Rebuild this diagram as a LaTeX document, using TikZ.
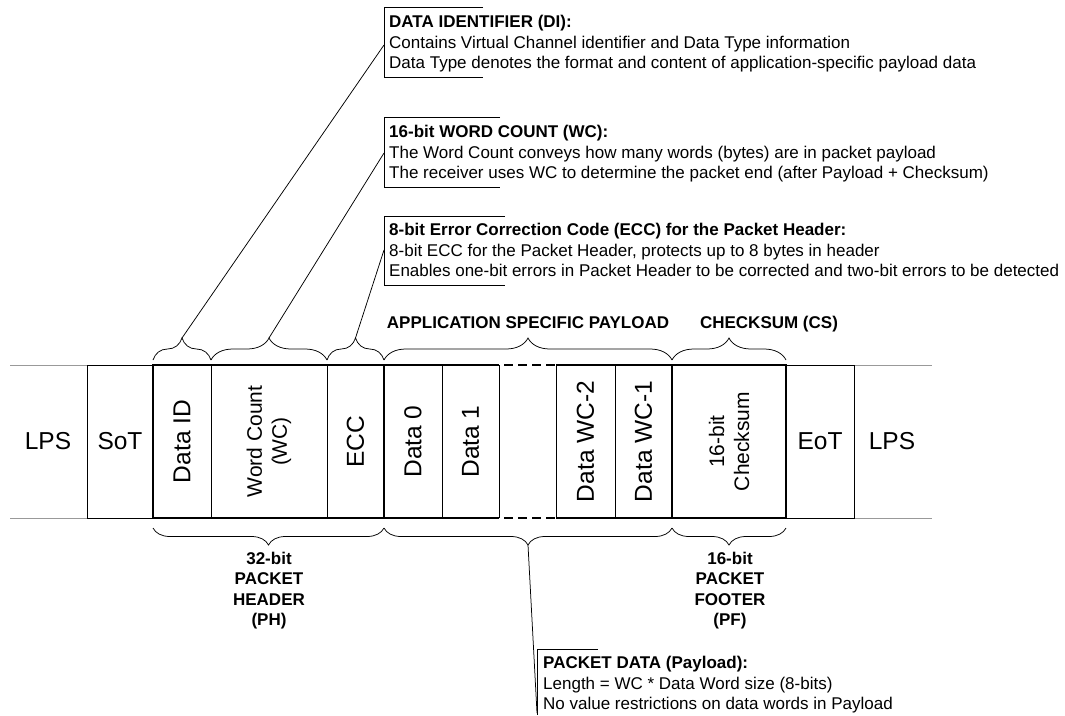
\documentclass[tikz,border=0pt]{standalone}
\usepackage{fontspec}
\setmainfont{Liberation Sans}
\usetikzlibrary{decorations.pathreplacing}

\tikzset{
  cellline/.style={line width=0.85pt},
  frameline/.style={line width=1.7pt},
  gapline/.style={line width=1.7pt, dash pattern=on 9pt off 5pt, dash phase=9pt},
  sideline/.style={line width=0.8pt, black!40},
  bigtext/.style={inner sep=0pt, font=\fontsize{24.5}{28}\selectfont},
  midtext/.style={inner sep=0pt, align=center, font=\fontsize{21}{25}\selectfont},
  toplabel/.style={inner sep=0pt, anchor=base, font=\bfseries\fontsize{17}{20.5}\selectfont},
  botlabel/.style={inner sep=0pt, anchor=north, align=center, font=\bfseries\fontsize{17}{20.5}\selectfont},
  notetext/.style={inner sep=0pt, anchor=north west, align=left, font=\fontsize{17}{20.5}\selectfont},
  notebox/.style={line width=0.75pt},
  upbrace/.style={decorate, decoration={brace, amplitude=22pt}, line width=0.75pt},
  downbrace/.style={decorate, decoration={brace, amplitude=17pt}, line width=0.75pt},
  leader/.style={line width=0.75pt}
}

\begin{document}
\begin{tikzpicture}[x=1pt,y=1pt,yscale=-1,xscale=1]
  \useasboundingbox (0,0) rectangle (1065,715);

  % lines outside the packet
  \draw [sideline] (10,365) -- (87,365) (10,518) -- (87,518) (854,365) -- (932,365) (854,518) -- (932,518);
  \draw [cellline] (87,365) rectangle (153,518);
  \draw [cellline] (786,365) rectangle (854,518);

  % packet fields
  \draw [cellline] (211,365) -- (211,518) (327,365) -- (327,518) (442,365) -- (442,518) (499,365) -- (499,518) (556,365) -- (556,518) (615,365) -- (615,518);
  \draw [frameline] (499,365) -- (153,365) -- (153,518) -- (499,518);
  \draw [frameline] (556,365) -- (786,365) -- (786,518) -- (556,518);
  \draw [frameline] (384,365) -- (384,518) (672,365) -- (672,518);
  \draw [gapline] (499,365) -- (556,365) (499,518) -- (556,518);

  \node [bigtext] (lpsleft) at (48,441.5) {LPS};
  \node [bigtext] (sot) at (120,441.5) {SoT};
  \node [bigtext, rotate=90] (dataid) at (182,441.5) {Data ID};
  \node [midtext, rotate=90] (wordcount) at (269,441.5) {Word Count\\(WC)};
  \node [bigtext, rotate=90] (ecc) at (355.5,441.5) {ECC};
  \node [bigtext, rotate=90] (datazero) at (413,441.5) {Data 0};
  \node [bigtext, rotate=90] (dataone) at (470.5,441.5) {Data 1};
  \node [bigtext, rotate=90] (datawctwo) at (585.5,441.5) {Data WC-2};
  \node [bigtext, rotate=90] (datawcone) at (643.5,441.5) {Data WC-1};
  \node [midtext, rotate=90] (checksum) at (729,441.5) {16-bit\\Checksum};
  \node [bigtext] (eot) at (820,441.5) {EoT};
  \node [bigtext] (lpsright) at (892,441.5) {LPS};

  % braces above
  \draw [upbrace] (153,360) -- (211,360);
  \draw [upbrace] (211,360) -- (327,360);
  \draw [upbrace] (327,360) -- (384,360);
  \draw [upbrace] (384,360) -- (672,360);
  \draw [upbrace] (672,360) -- (786,360);
  \coordinate (ditip) at (182,338);
  \coordinate (wctip) at (269,338);
  \coordinate (ecctip) at (355.5,338);

  \node [toplabel] (payloadlabel) at (528,328) {APPLICATION SPECIFIC PAYLOAD};
  \node [toplabel] (cslabel) at (769,328) {CHECKSUM (CS)};

  % braces below
  \draw [downbrace] (384,528) -- (153,528);
  \draw [downbrace] (672,528) -- (384,528);
  \draw [downbrace] (786,528) -- (672,528);
  \coordinate (pdtip) at (528,545);

  \node [botlabel] (phlabel) at (269,551.8) {32-bit\\PACKET\\HEADER\\(PH)};
  \node [botlabel] (pflabel) at (730,551.8) {16-bit\\PACKET\\FOOTER\\(PF)};

  % notes
  \draw [notebox] (483,7) -- (384,7) -- (384,77) -- (483,77);
  \coordinate (dihook) at (384,45);
  \node [notetext] (dinote) at (389,15.2) {\textbf{DATA IDENTIFIER (DI):}\\Contains Virtual Channel identifier and Data Type information\\Data Type denotes the format and content of application-specific payload data};

  \draw [notebox] (500,117) -- (384,117) -- (384,187) -- (500,187);
  \coordinate (wchook) at (384,153);
  \node [notetext] (wcnote) at (389,125.2) {\textbf{16-bit WORD COUNT (WC):}\\The Word Count conveys how many words (bytes) are in packet payload\\The receiver uses WC to determine the packet end (after Payload + Checksum)};

  \draw [notebox] (505,216) -- (384,216) -- (384,285) -- (505,285);
  \coordinate (ecchook) at (384,250);
  \node [notetext] (eccnote) at (389,223.2) {\textbf{8-bit Error Correction Code (ECC) for the Packet Header:}\\8-bit ECC for the Packet Header, protects up to 8 bytes in header\\Enables one-bit errors in Packet Header to be corrected and two-bit errors to be detected};

  \draw [notebox] (598,649) -- (537,649) -- (537,715);
  \coordinate (pdhook) at (537,713);
  \node [notetext] (pdnote) at (543,656.2) {\textbf{PACKET DATA (Payload):}\\Length = WC * Data Word size (8-bits)\\No value restrictions on data words in Payload};

  % leaders
  \draw [leader] (ditip) -- (dihook);
  \draw [leader] (wctip) -- (wchook);
  \draw [leader] (ecctip) -- (ecchook);
  \draw [leader] (pdtip) -- (pdhook);
\end{tikzpicture}
\end{document}
